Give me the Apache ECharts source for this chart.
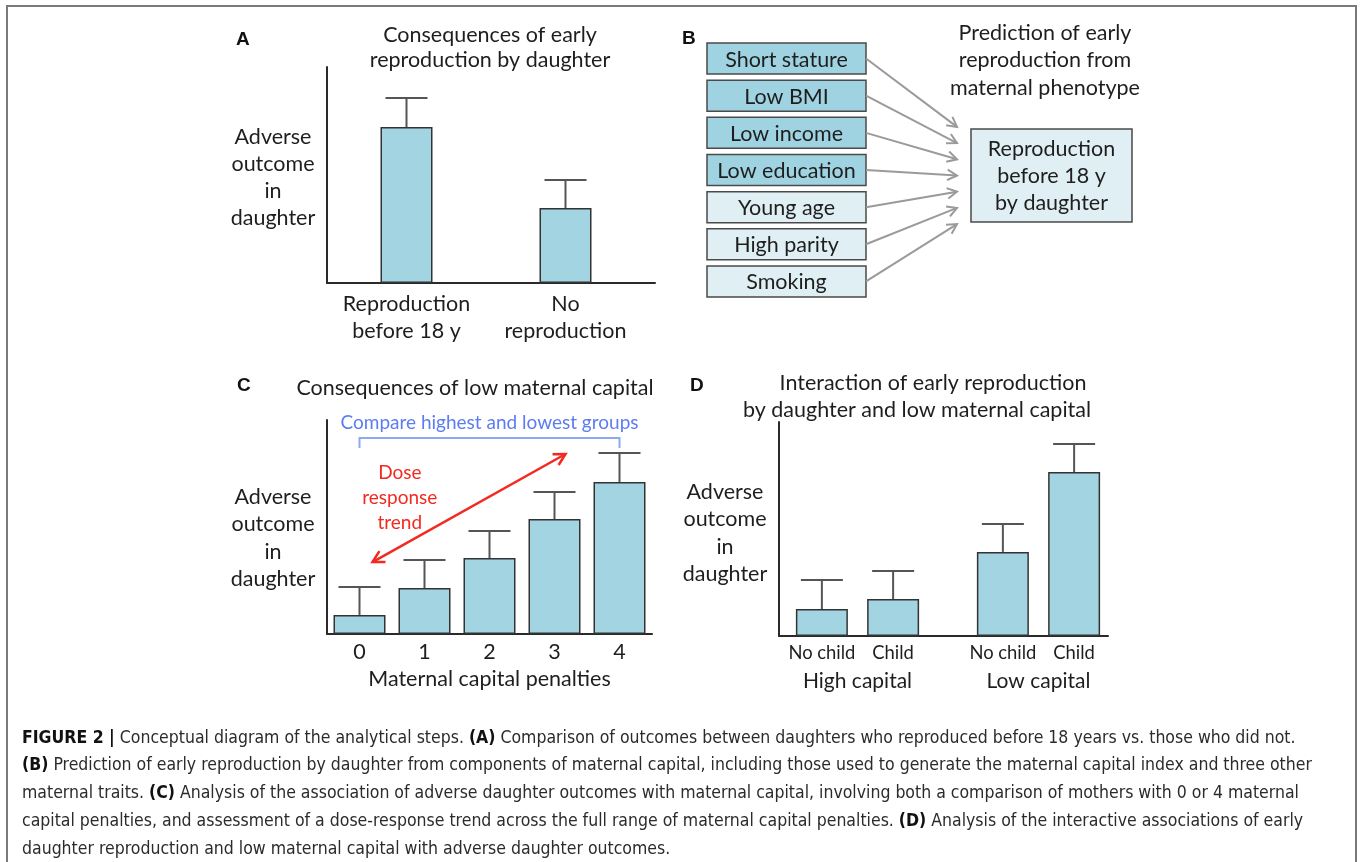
<!DOCTYPE html>
<html>
<head>
<meta charset="utf-8">
<title>Figure 2</title>
<script src="https://cdn.jsdelivr.net/npm/echarts@6/dist/echarts.min.js"></script>
<style>
  html, body { margin: 0; padding: 0; background: #fff; }
  #main { width: 1360px; height: 862px; }
</style>
</head>
<body>
<div id="main"></div>
<script>
// ---- data (arbitrary units) ----
// A: consequences of early reproduction
const aCategories = ['Reproduction\nbefore 18 y', 'No\nreproduction']
const aMeans = [7.22, 3.47]
const aErrors = [1.34, 1.3]

// B: predictors of early reproduction
const bPredictors = ['Short stature', 'Low BMI', 'Low income', 'Low education', 'Young age', 'High parity', 'Smoking']
const bInIndex = [1, 1, 1, 1, 0, 0, 0] // 1 = part of maternal capital index (darker box)
const bOutcome = 'Reproduction\nbefore 18 y\nby daughter'

// C: consequences of low maternal capital
const cCategories = ['0', '1', '2', '3', '4']
const cMeans = [0.89, 2.15, 3.55, 5.37, 7.1]
const cErrors = [1.31, 1.31, 1.26, 1.27, 1.36]

// D: interaction
const dGroups = ['High capital', 'Low capital']
const dNoChild = [1.26, 3.93]
const dChild = [1.73, 7.66]
const dNoChildErr = [1.36, 1.3]
const dChildErr = [1.31, 1.31]

// annotation of panel C, in data space (category index, value)
const cBracketY = 9.16
const cArrowFrom = [0.2, 3.36]
const cArrowTo = [3.17, 8.41]
const cTrendLabelAt = [0.62, 6.38]

const FONT = 'Lato, "Open Sans", sans-serif'
const FS = 21.5
const TXT = '#1e1e1e'
const BAR = '#a3d4e2'
const BAR_EDGE = '#333'
const ERR = '#555'
const AXIS = { show: true, onZero: false, lineStyle: { color: '#2a2a2a', width: 2 } }

const chart = echarts.init(document.getElementById('main'), null, { renderer: 'canvas' })

const barWidth = 52
const dBarGap = 0.37
const dOffset = (barWidth + barWidth * dBarGap) / 2

function errorSeries(axisIndex, means, errs, dx) {
  return {
    type: 'custom',
    xAxisIndex: axisIndex,
    yAxisIndex: axisIndex,
    z: 3,
    silent: true,
    data: means.map((m, i) => [i, m, m + errs[i]]),
    renderItem: (params, api) => {
      const base = api.coord([api.value(0), api.value(1)])
      const top = api.coord([api.value(0), api.value(2)])
      const x = base[0] + dx
      const st = { stroke: ERR, lineWidth: 2 }
      return {
        type: 'group',
        children: [
          { type: 'line', shape: { x1: x, y1: base[1], x2: x, y2: top[1] }, style: st },
          { type: 'line', shape: { x1: x - 21, y1: top[1], x2: x + 21, y2: top[1] }, style: st }
        ]
      }
    }
  }
}

function chevron(tip, from, len, color, width) {
  const ang = Math.atan2(tip[1] - from[1], tip[0] - from[0])
  const a1 = ang + Math.PI - 0.5
  const a2 = ang + Math.PI + 0.5
  return {
    type: 'polyline',
    shape: { points: [
      [tip[0] + len * Math.cos(a1), tip[1] + len * Math.sin(a1)],
      tip,
      [tip[0] + len * Math.cos(a2), tip[1] + len * Math.sin(a2)]
    ] },
    style: { stroke: color, lineWidth: width, fill: null }
  }
}

const barStyle = { color: BAR, borderColor: BAR_EDGE, borderWidth: 1.5 }
const yName = 'Adverse\noutcome\nin\ndaughter'
const hidden = { show: false }

const letter = (t, left, top) => ({
  text: t, left: left, top: top, padding: 0,
  textStyle: { fontFamily: 'Liberation Sans, Arial', fontWeight: 'bold', fontSize: 19, color: '#111' }
})
const label = (t, left, top, lh) => ({
  text: t, left: left, top: top, padding: 0, textAlign: 'center',
  textStyle: { fontFamily: FONT, fontWeight: 'normal', fontSize: FS, lineHeight: lh, color: TXT }
})

const option = {
  animation: false,
  backgroundColor: '#fff',
  textStyle: { fontFamily: FONT },
  title: [
    letter('A', 236, 30),
    letter('B', 682, 29),
    letter('C', 237, 376),
    letter('D', 690, 376),
    label('Consequences of early\nreproduction by daughter', 490, 22.5, 25),
    label('Prediction of early\nreproduction from\nmaternal phenotype', 1045, 19, 27.5),
    label('Consequences of low maternal capital', 475, 375, 26),
    label('Interaction of early reproduction', 933, 370, 26),
    label('by daughter and low maternal capital', 917, 397, 26),
    // y axis captions
    label(yName, 273, 123.5, 27),
    label(yName, 273, 483.5, 27.3),
    label(yName, 725, 478.5, 27.3)
  ],
  grid: [
    { left: 327, top: 67, width: 318, height: 216 },   // 0 A bars
    { left: 327, top: 67, width: 328, height: 216 },   // 1 A frame
    { left: 327, top: 420, width: 325, height: 214 },  // 2 C
    { left: 767, top: 422, width: 362, height: 214 },  // 3 D bars
    { left: 779, top: 422, width: 329, height: 214 },  // 4 D frame
    { left: 707, top: 40, width: 430, height: 260 }    // 5 B layout
  ],
  xAxis: [
    { gridIndex: 0, type: 'category', data: aCategories, axisLine: hidden, axisTick: hidden,
      axisLabel: { interval: 0, hideOverlap: false, margin: 8, fontFamily: FONT, fontSize: FS, lineHeight: 27, color: TXT } },
    { gridIndex: 1, type: 'value', min: 0, max: 1, axisLine: AXIS, axisTick: hidden, axisLabel: hidden, splitLine: hidden },
    { gridIndex: 2, type: 'category', data: cCategories, axisLine: AXIS, axisTick: hidden,
      axisLabel: { interval: 0, margin: 7, fontFamily: FONT, fontSize: FS, color: TXT },
      name: 'Maternal capital penalties', nameLocation: 'middle', nameGap: 34,
      nameTextStyle: { fontFamily: FONT, fontSize: FS, color: TXT } },
    { gridIndex: 3, type: 'category', data: dGroups, axisLine: hidden, axisTick: hidden,
      axisLabel: { interval: 0, hideOverlap: false, margin: 35, fontFamily: FONT, fontSize: 21, color: TXT } },
    { gridIndex: 4, type: 'value', min: 0, max: 1, axisLine: AXIS, axisTick: hidden, axisLabel: hidden, splitLine: hidden },
    { gridIndex: 5, type: 'value', min: 0, max: 1, show: false }
  ],
  yAxis: [
    { gridIndex: 0, type: 'value', min: 0, max: 10, show: false },
    { gridIndex: 1, type: 'value', min: 0, max: 1, axisLine: AXIS, axisTick: hidden, axisLabel: hidden, splitLine: hidden },
    { gridIndex: 2, type: 'value', min: 0, max: 10, axisLine: AXIS, axisTick: hidden, axisLabel: hidden, splitLine: hidden },
    { gridIndex: 3, type: 'value', min: 0, max: 10, show: false },
    { gridIndex: 4, type: 'value', min: 0, max: 1, axisLine: AXIS, axisTick: hidden, axisLabel: hidden, splitLine: hidden },
    { gridIndex: 5, type: 'category', data: bPredictors, inverse: true, show: false }
  ],
  series: [
    // A
    { type: 'bar', xAxisIndex: 0, yAxisIndex: 0, data: aMeans, barWidth: barWidth, itemStyle: barStyle, z: 2 },
    errorSeries(0, aMeans, aErrors, 0),
    // C
    { type: 'bar', xAxisIndex: 2, yAxisIndex: 2, data: cMeans, barWidth: barWidth, itemStyle: barStyle, z: 2 },
    errorSeries(2, cMeans, cErrors, 0),
    {
      type: 'custom', xAxisIndex: 2, yAxisIndex: 2, z: 4, silent: true,
      data: [[0, 0]],
      renderItem: (params, api) => {
        const p0 = api.coord([0, 0])
        const band = api.size([1, 0])[0]
        const unit = api.size([0, 1])[1]
        const pt = (x, y) => [p0[0] + x * band, p0[1] - y * unit]
        const blue = '#8ea9f0'
        const red = '#f22a22'
        const b0 = pt(0, cBracketY)
        const b1 = pt(cCategories.length - 1, cBracketY)
        const legs = 0.47 * unit
        const a = pt(cArrowFrom[0], cArrowFrom[1])
        const b = pt(cArrowTo[0], cArrowTo[1])
        const lab = pt(cTrendLabelAt[0], cTrendLabelAt[1])
        return {
          type: 'group',
          children: [
            { type: 'polyline', shape: { points: [[b0[0], b0[1] + legs], b0, b1, [b1[0], b1[1] + legs]] },
              style: { stroke: blue, lineWidth: 2, fill: null } },
            { type: 'text', x: (b0[0] + b1[0]) / 2, y: b0[1] - 15,
              style: { text: 'Compare highest and lowest groups', fill: '#5c7cf2', font: '19px ' + FONT, align: 'center', verticalAlign: 'middle' } },
            { type: 'line', shape: { x1: a[0], y1: a[1], x2: b[0], y2: b[1] }, style: { stroke: red, lineWidth: 2.5 } },
            chevron(a, b, 13, red, 2.5),
            chevron(b, a, 13, red, 2.5),
            { type: 'text', x: lab[0], y: lab[1],
              style: { text: 'Dose\nresponse\ntrend', fill: red, font: '19px ' + FONT, lineHeight: 25, align: 'center', verticalAlign: 'middle' } }
          ]
        }
      }
    },
    // D
    { type: 'bar', name: 'No child', xAxisIndex: 3, yAxisIndex: 3, data: dNoChild, barWidth: barWidth, barGap: (dBarGap * 100) + '%',
      itemStyle: barStyle, z: 2,
      label: { show: true, position: 'bottom', distance: 8, formatter: '{a}', fontFamily: FONT, fontSize: 18.4, color: TXT } },
    { type: 'bar', name: 'Child', xAxisIndex: 3, yAxisIndex: 3, data: dChild, barWidth: barWidth, barGap: (dBarGap * 100) + '%',
      itemStyle: barStyle, z: 2,
      label: { show: true, position: 'bottom', distance: 8, formatter: '{a}', fontFamily: FONT, fontSize: 18.4, color: TXT } },
    errorSeries(3, dNoChild, dNoChildErr, -dOffset),
    errorSeries(3, dChild, dChildErr, dOffset),
    // B: predictor boxes with arrows
    {
      type: 'custom', xAxisIndex: 5, yAxisIndex: 5, silent: true,
      data: bPredictors.map((name, i) => [0, i, bInIndex[i]]),
      renderItem: (params, api) => {
        const idx = api.value(1)
        const c = api.coord([0, idx])
        const mid = api.coord([0, (bPredictors.length - 1) / 2])
        const boxW = 159, boxH = 31
        const x0 = c[0]
        const start = [x0 + boxW, c[1]]
        const end = [x0 + 250, mid[1] + 5.5 + (idx - (bPredictors.length - 1) / 2) * 16.2]
        const grey = '#9a9a9a'
        return {
          type: 'group',
          children: [
            { type: 'rect', shape: { x: x0, y: c[1] - boxH / 2, width: boxW, height: boxH },
              style: { fill: api.value(2) ? '#a0d3e1' : '#e0eff4', stroke: '#4a4a4a', lineWidth: 1.5 } },
            { type: 'text', x: x0 + boxW / 2, y: c[1] + 1,
              style: { text: bPredictors[idx], fill: TXT, font: FS + 'px ' + FONT, align: 'center', verticalAlign: 'middle' } },
            { type: 'line', shape: { x1: start[0], y1: start[1], x2: end[0], y2: end[1] }, style: { stroke: grey, lineWidth: 2 } },
            chevron(end, start, 11, grey, 2)
          ]
        }
      }
    },
    {
      type: 'custom', xAxisIndex: 5, yAxisIndex: 5, silent: true,
      data: [[0, (bPredictors.length - 1) / 2]],
      renderItem: (params, api) => {
        const c = api.coord([0, api.value(1)])
        const x = c[0] + 264, w = 161, h = 93
        const cy = c[1] + 5.5
        return {
          type: 'group',
          children: [
            { type: 'rect', shape: { x: x, y: cy - h / 2, width: w, height: h },
              style: { fill: '#e0eff4', stroke: '#4a4a4a', lineWidth: 1.5 } },
            { type: 'text', x: x + w / 2, y: cy + 1,
              style: { text: bOutcome, fill: TXT, font: FS + 'px ' + FONT, lineHeight: 27, align: 'center', verticalAlign: 'middle' } }
          ]
        }
      }
    }
  ],
  graphic: [
    { type: 'polyline', silent: true, shape: { points: [[7, 862], [7, 6], [1356, 6], [1356, 862]] },
      style: { stroke: '#7a7a7a', lineWidth: 2, fill: null } }
  ]
}

// caption
const captionLines = [
  '{b|FIGURE 2 |} Conceptual diagram of the analytical steps. {b|(A)} Comparison of outcomes between daughters who reproduced before 18 years vs. those who did not.',
  '{b|(B)} Prediction of early reproduction by daughter from components of maternal capital, including those used to generate the maternal capital index and three other',
  'maternal traits. {b|(C)} Analysis of the association of adverse daughter outcomes with maternal capital, involving both a comparison of mothers with 0 or 4 maternal',
  'capital penalties, and assessment of a dose-response trend across the full range of maternal capital penalties. {b|(D)} Analysis of the interactive associations of early',
  'daughter reproduction and low maternal capital with adverse daughter outcomes.'
]
const capFont = '"Liberation Sans Narrow", "DejaVu Sans Condensed", "Roboto Condensed", sans-serif'
captionLines.forEach((line, i) => {
  option.graphic.push({
    type: 'text', silent: true, left: 22, top: 729 + i * 27.8,
    style: {
      text: line, fill: '#2b2b2b', font: '17.5px ' + capFont,
      rich: { b: { fontWeight: 'bold', fontFamily: capFont, fontSize: 17.5, fill: '#111' } }
    }
  })
})

chart.setOption(option)
window.addEventListener('resize', () => chart.resize())
</script>
</body>
</html>
